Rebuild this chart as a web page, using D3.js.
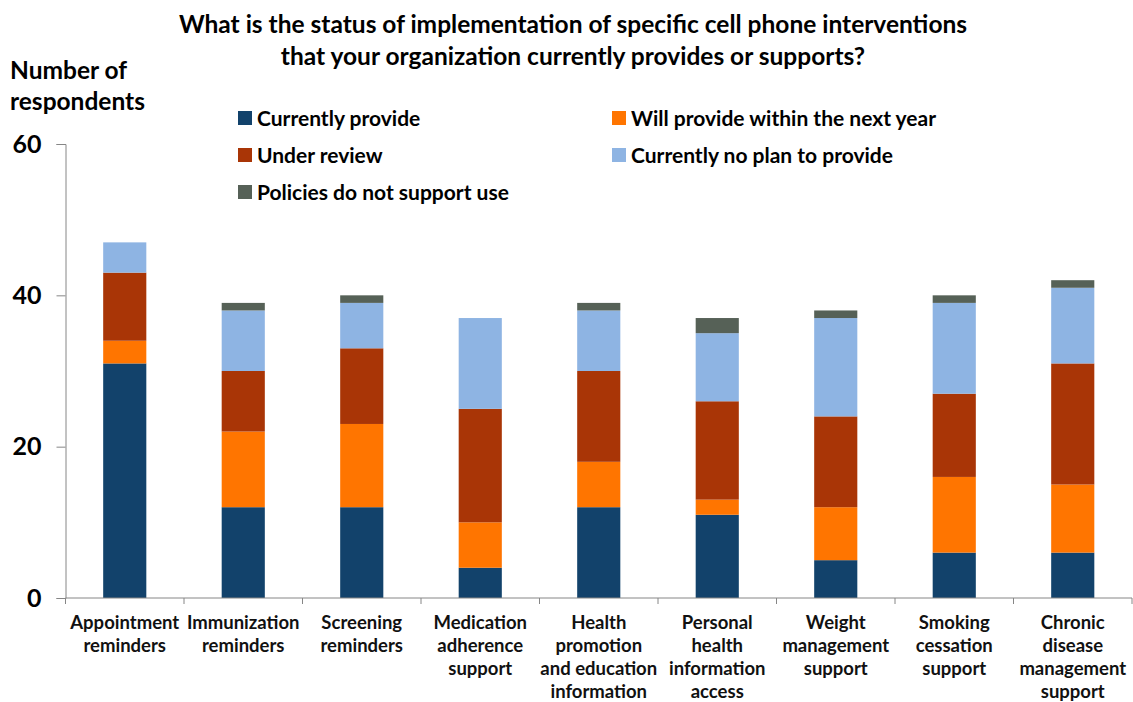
<!DOCTYPE html>
<html>
<head>
<meta charset="utf-8">
<script src="https://cdn.jsdelivr.net/npm/d3@7"></script>
<style>
  body { margin: 0; background: #fff; }
  svg { display: block; font-family: Lato, "Open Sans", sans-serif; }
</style>
</head>
<body>
<svg id="chart" width="1133" height="702"></svg>
<script>
// Survey categories (each entry is one wrapped label)
const categories = [
  ["Appointment", "reminders"],
  ["Immunization", "reminders"],
  ["Screening", "reminders"],
  ["Medication", "adherence", "support"],
  ["Health", "promotion", "and education", "information"],
  ["Personal", "health", "information", "access"],
  ["Weight", "management", "support"],
  ["Smoking", "cessation", "support"],
  ["Chronic", "disease", "management", "support"]
];

const seriesNames = [
  "Currently provide",
  "Will provide within the next year",
  "Under review",
  "Currently no plan to provide",
  "Policies do not support use"
];
const seriesColors = ["#12426b", "#ff7500", "#a93506", "#8eb4e3", "#566157"];

// Respondent counts per category, one array per status
const currentlyProvide   = [31, 12, 12, 4, 12, 11, 5, 6, 6];
const willProvide        = [3, 10, 11, 6, 6, 2, 7, 10, 9];
const underReview        = [9, 8, 10, 15, 12, 13, 12, 11, 16];
const noPlan             = [4, 8, 6, 12, 8, 9, 13, 12, 10];
const policiesNotSupport = [0, 1, 1, 0, 1, 2, 1, 1, 1];

const yTicks = [0, 20, 40, 60];

const titleLines = [
  "What is the status of implementation of specific cell phone interventions",
  "that your organization currently provides or supports?"
];

const seriesValues = [currentlyProvide, willProvide, underReview, noPlan, policiesNotSupport];
const rows = categories.map((c, i) => {
  const r = { key: i };
  seriesNames.forEach((s, k) => { r[s] = seriesValues[k][i]; });
  return r;
});

const svg = d3.select("#chart");
const plotLeft = 65.5, plotRight = 1132, plotTop = 144, plotBottom = 598;

const x = d3.scaleBand()
  .domain(categories.map((c, i) => i))
  .range([plotLeft, plotRight])
  .paddingInner(0.636)
  .paddingOuter(0.318);

const y = d3.scaleLinear().domain([0, 60]).range([plotBottom, plotTop]);

const stack = d3.stack().keys(seriesNames);
const layers = stack(rows);

// Stacked bars
svg.append("g")
  .selectAll("g")
  .data(layers)
  .join("g")
  .attr("fill", (d, i) => seriesColors[i])
  .selectAll("rect")
  .data(d => d)
  .join("rect")
  .attr("x", d => x(d.data.key))
  .attr("width", x.bandwidth())
  .attr("y", d => y(d[1]))
  .attr("height", d => y(d[0]) - y(d[1]));

// Y axis
const yAxis = svg.append("g")
  .attr("transform", `translate(${plotLeft},0)`)
  .call(d3.axisLeft(y).tickValues(yTicks).tickSize(9).tickPadding(15));
yAxis.select(".domain").attr("stroke", "#868686");
yAxis.selectAll(".tick line").attr("stroke", "#868686");
yAxis.selectAll(".tick text")
  .attr("font-size", 25).attr("font-weight", 700).attr("fill", "#000")
  .attr("font-family", "Lato, sans-serif");

// X axis with ticks on the category boundaries
const xAxisG = svg.append("g").attr("transform", `translate(0,${plotBottom})`);
xAxisG.append("line")
  .attr("x1", plotLeft).attr("x2", plotRight)
  .attr("stroke", "#868686");
const step = x.step();
const boundaries = d3.range(categories.length + 1).map(i => plotLeft + i * step);
xAxisG.selectAll("line.tick")
  .data(boundaries)
  .join("line")
  .attr("class", "tick")
  .attr("x1", d => d).attr("x2", d => d)
  .attr("y1", 0).attr("y2", 6)
  .attr("stroke", "#868686");

// Category labels
const labels = svg.append("g")
  .attr("font-size", 18.5)
  .attr("font-weight", 700)
  .attr("fill", "#111")
  .attr("text-anchor", "middle");
categories.forEach((lines, i) => {
  const t = labels.append("text")
    .attr("x", x(i) + x.bandwidth() / 2)
    .attr("y", 628.5);
  lines.forEach((ln, j) => {
    t.append("tspan")
      .attr("x", x(i) + x.bandwidth() / 2)
      .attr("dy", j === 0 ? 0 : 23.1)
      .text(ln);
  });
});

// Title
svg.append("g")
  .attr("font-size", 24.5)
  .attr("font-weight", 700)
  .attr("text-anchor", "middle")
  .selectAll("text")
  .data(titleLines)
  .join("text")
  .attr("x", 573)
  .attr("y", (d, i) => 33 + i * 32)
  .text(d => d);

// Y axis title
svg.append("text")
  .attr("x", 10).attr("y", 79)
  .attr("font-size", 24.5).attr("font-weight", 700)
  .selectAll("tspan")
  .data(["Number of", "respondents"])
  .join("tspan")
  .attr("x", 10)
  .attr("dy", (d, i) => i === 0 ? 0 : 31)
  .text(d => d);

// Legend
const legendPos = [
  [238, 118], [612, 118],
  [238, 155], [612, 155],
  [238, 192]
];
const legend = svg.append("g")
  .selectAll("g")
  .data(seriesNames)
  .join("g")
  .attr("transform", (d, i) => `translate(${legendPos[i][0]},${legendPos[i][1]})`);
legend.append("rect")
  .attr("x", 0).attr("y", -7)
  .attr("width", 14).attr("height", 14)
  .attr("fill", (d, i) => seriesColors[i]);
legend.append("text")
  .attr("x", 19).attr("y", 7.5)
  .attr("font-size", 21).attr("font-weight", 700)
  .text(d => d);
</script>
</body>
</html>
